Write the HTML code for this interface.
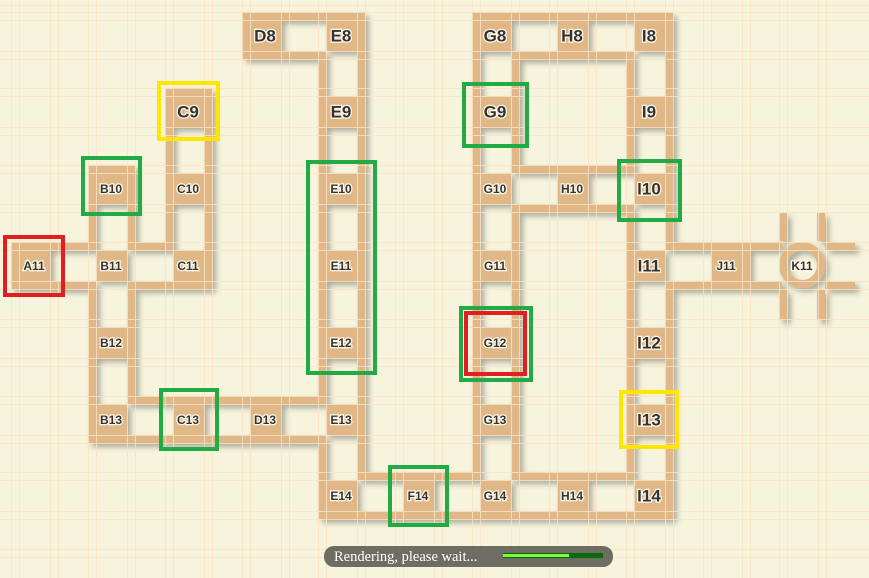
<!DOCTYPE html>
<html><head><meta charset="utf-8"><style>
html,body{margin:0;padding:0;background:#f6f4dd;}
svg{display:block}
.lb{font-family:"Liberation Sans",sans-serif;font-weight:bold;fill:#333;stroke:#fff8e8;stroke-width:2.5px;paint-order:stroke;text-anchor:middle;dominant-baseline:central}
</style></head><body>
<svg id="s" width="869" height="578" viewBox="0 0 869 578" xmlns="http://www.w3.org/2000/svg">
<defs><filter id="sh" x="-10%" y="-10%" width="130%" height="130%"><feDropShadow dx="4" dy="4" stdDeviation="3" flood-color="#000" flood-opacity="0.3"/></filter></defs>
<rect width="869" height="578" fill="#f6f4dd"/>
<g id="walls" filter="url(#sh)" fill="#e0b888"></g>
<g id="grid" stroke="#ffe2c4" stroke-width="1" opacity="0.8"></g>
<g id="labels"></g>
<g fill="none" stroke-width="4">
<rect x="83" y="158" width="57" height="56" stroke="#22aa44"/>
<rect x="308" y="162" width="67" height="211" stroke="#22aa44"/>
<rect x="464" y="84" width="63" height="62" stroke="#22aa44"/>
<rect x="461" y="308" width="70" height="72" stroke="#22aa44"/>
<rect x="466" y="313" width="59" height="61" stroke="#e02020"/>
<rect x="5" y="237" width="58" height="58" stroke="#e02020"/>
<rect x="159" y="83" width="59" height="56" stroke="#ffe600"/>
<rect x="161" y="390" width="56" height="59" stroke="#22aa44"/>
<rect x="390" y="467" width="57" height="58" stroke="#22aa44"/>
<rect x="619" y="161" width="61" height="59" stroke="#22aa44"/>
<rect x="621" y="392" width="56" height="55" stroke="#ffe600"/>
</g>
<rect x="324" y="546" width="289" height="21" rx="10" fill="#5e5e55" opacity="0.9"/>
<text x="334" y="561" font-family="Liberation Serif,serif" font-size="14.5" fill="#fff">Rendering, please wait...</text>
<rect x="503" y="553" width="100" height="5" fill="#0a6a0a"/>
<rect x="503" y="554" width="66" height="3" fill="#7cff3a"/>
</svg>
<script>
var X={A:34,B:111,C:188,D:265,E:341,F:418,G:495,H:572,I:649,J:726,K:802};
var Y={8:35,9:111,10:188,11:265,12:342,13:419,14:495};
var big="D8 E8 E9 C9 G8 H8 I8 G9 I9 I10 I11 I12 I13 I14".split(" ");
var cells="D8 E8 G8 H8 I8 C9 E9 G9 I9 B10 C10 E10 G10 H10 I10 A11 B11 C11 E11 G11 I11 J11 B12 E12 G12 I12 B13 C13 D13 E13 G13 I13 E14 F14 G14 H14 I14".split(" ");
var edges=[["D8","E8"],["G8","H8"],["H8","I8"],["E14","F14"],["F14","G14"],["G14","H14"],["H14","I14"],["G10","H10"],["H10","I10"],["I11","J11"],["C9","C10"],["C10","C11"],["B10","B11"],["B11","B12"],["B12","B13"],["A11","B11"],["B11","C11"],["B13","C13"],["C13","D13"],["D13","E13"]];
for(var r=8;r<14;r++){edges.push(["E"+r,"E"+(r+1)]);edges.push(["G"+r,"G"+(r+1)]);edges.push(["I"+r,"I"+(r+1)]);}
function P(n){return [X[n[0]],Y[n.slice(1)]];}
var con={};cells.forEach(function(c){con[c]={l:0,r:0,t:0,b:0};});
var W=document.getElementById("walls"),h="";
function R(x,y,w,hh){h+='<rect x="'+x+'" y="'+y+'" width="'+w+'" height="'+hh+'"/>';}
edges.forEach(function(e){var a=P(e[0]),b=P(e[1]);
 if(a[1]==b[1]){con[e[0]].r=1;con[e[1]].l=1;R(a[0]+24,a[1]-23,b[0]-23-a[0]-24,8);R(a[0]+24,a[1]+16,b[0]-23-a[0]-24,8);}
 else{con[e[0]].b=1;con[e[1]].t=1;R(a[0]-23,a[1]+24,8,b[1]-23-a[1]-24);R(a[0]+16,a[1]+24,8,b[1]-23-a[1]-24);}
});
cells.forEach(function(c){var p=P(c),x=p[0],y=p[1],k=con[c];
 R(x-15,y-15,31,31);
 R(x-23,y-23,8,8);R(x+16,y-23,8,8);R(x-23,y+16,8,8);R(x+16,y+16,8,8);
 if(!k.t)R(x-15,y-23,31,8); if(!k.b)R(x-15,y+16,31,8);
 if(!k.l)R(x-23,y-15,8,31); if(!k.r)R(x+16,y-15,8,31);
});
// J11-K11
R(750,242,32,8);R(750,281,32,8);
W.innerHTML=h+'<circle cx="802" cy="265" r="19" fill="none" stroke="#e0b888" stroke-width="8"/>'
+'<rect x="779" y="213" width="8" height="28"/><rect x="817" y="213" width="8" height="28"/>'
+'<rect x="779" y="290" width="8" height="30"/><rect x="817" y="290" width="8" height="30"/>'
+'<rect x="825" y="242" width="30" height="8"/><rect x="825" y="281" width="30" height="8"/>';
var g="";
for(var k in X){[-23,-15,16,24].forEach(function(d){var v=X[k]+d+0.5;g+='<line x1="'+v+'" y1="0" x2="'+v+'" y2="578"/>';});}
for(var k in Y){[-23,-15,16,24].forEach(function(d){var v=Y[k]+d+0.5;g+='<line x1="0" y1="'+v+'" x2="869" y2="'+v+'"/>';});}
[-42,-34,-3,5,549,557].forEach(function(v){g+='<line x1="0" y1="'+(v+0.5)+'" x2="869" y2="'+(v+0.5)+'"/>';});
document.getElementById("grid").innerHTML=g;
var L="";cells.concat(["K11"]).forEach(function(c){var p=P(c);var b=big.indexOf(c)>=0;
 L+='<text class="lb" x="'+p[0]+'" y="'+(p[1]+1)+'" font-size="'+(b?17:12)+'">'+c+'</text>';});
document.getElementById("labels").innerHTML=L;
</script>
</body></html>
